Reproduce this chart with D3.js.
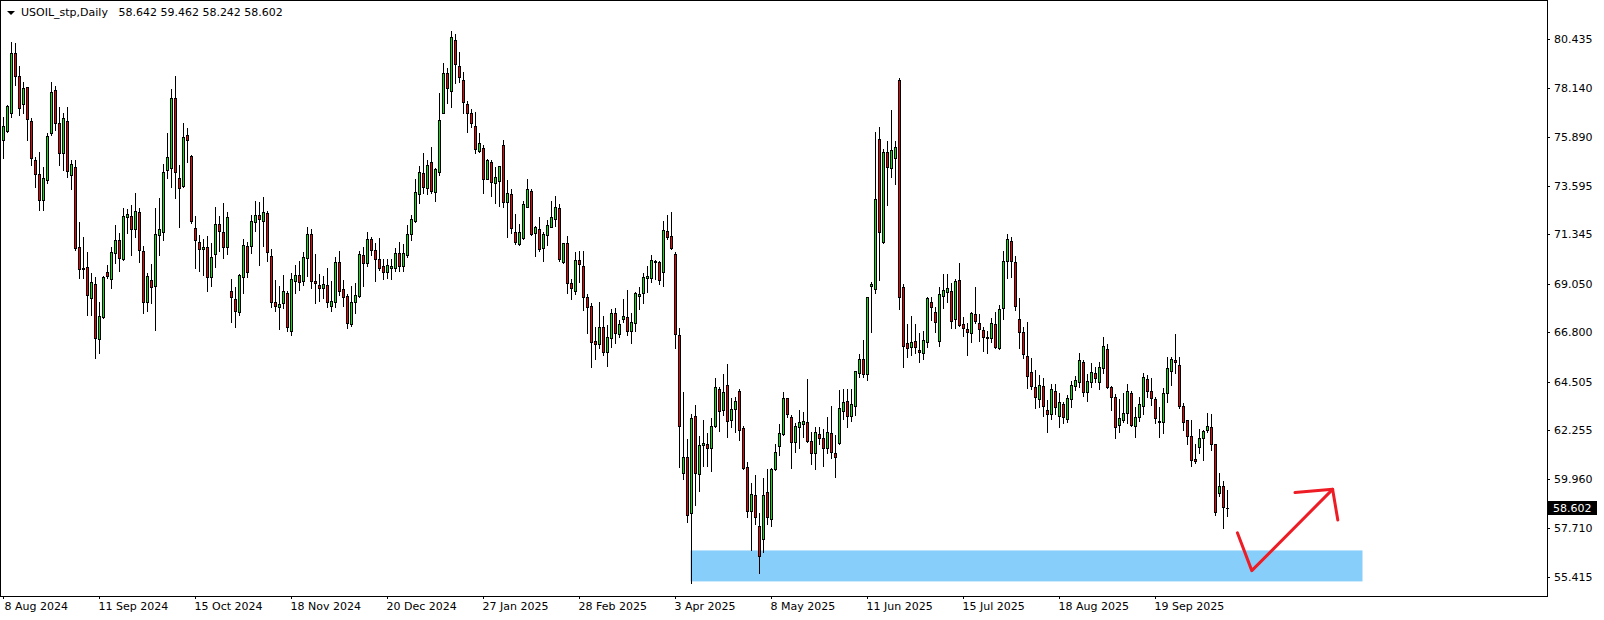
<!DOCTYPE html>
<html>
<head>
<meta charset="utf-8">
<script src="https://cdn.jsdelivr.net/npm/d3@7"></script>
<style>
  body { margin: 0; background: #fff; }
  svg { display: block; }
  text { font-family: "DejaVu Sans", Tahoma, sans-serif; font-size: 11px; fill: #000; }
</style>
</head>
<body>
<svg width="1604" height="620"></svg>
<script>
// daily candles, 8 Aug 2024 .. 15 Oct 2025
const opens = [75.73,76.17,76.97,79.76,78.71,77.39,78.18,76.60,74.80,74.15,72.94,73.86,76.05,78.06,76.51,75.12,76.62,74.09,74.47,70.74,
  69.77,69.82,68.40,69.03,66.49,67.49,69.58,69.26,70.47,71.08,70.19,72.17,72.20,71.61,72.39,70.59,68.20,69.21,68.96,71.30,
  71.47,74.34,74.42,77.70,73.96,73.58,75.97,74.99,71.64,70.99,70.65,70.76,69.35,70.42,71.81,71.46,70.74,68.71,68.34,67.72,
  69.35,70.81,70.82,71.91,72.25,71.98,72.33,70.34,68.20,67.98,68.14,68.63,66.87,69.18,69.46,69.18,70.27,71.35,69.18,68.99,
  68.84,68.99,68.03,68.22,70.05,68.79,68.48,67.19,68.19,68.49,70.39,70.03,71.12,70.62,70.19,69.87,69.58,69.77,69.77,70.47,
  69.89,70.39,71.35,71.97,73.23,74.19,73.49,74.70,73.33,74.26,76.97,78.83,78.01,80.38,79.18,78.52,77.39,76.97,76.39,75.22,
  75.35,73.93,74.70,73.72,73.84,75.50,72.84,73.21,71.47,70.88,71.19,72.63,73.36,71.40,71.59,70.70,71.30,71.70,72.08,72.57,
  70.08,70.93,69.07,68.73,70.15,69.89,68.43,68.02,66.39,66.24,67.05,65.88,66.54,67.68,66.71,67.43,67.49,66.85,67.21,68.48,
  68.61,69.33,69.33,70.05,70.05,69.61,71.50,71.27,70.43,66.67,60.27,61.01,58.38,62.90,60.19,61.55,61.59,61.43,62.45,64.14,
  63.18,64.34,62.72,63.21,64.06,62.33,60.52,58.50,59.23,57.80,57.20,59.35,58.10,60.42,61.51,62.05,63.73,62.84,61.71,62.38,
  62.52,62.61,61.74,61.17,62.05,61.87,61.40,62.10,61.17,61.63,63.15,63.60,62.91,63.38,64.89,65.54,64.85,68.96,68.79,75.77,
  71.01,75.16,74.42,74.91,78.52,68.88,66.28,66.12,66.39,65.97,65.82,66.36,68.19,67.75,66.40,68.49,68.65,68.71,67.40,69.23,
  67.18,66.95,66.75,67.63,67.21,66.90,66.58,66.52,67.17,66.05,67.91,70.12,71.05,70.05,67.40,66.79,65.69,64.93,64.24,63.68,
  64.30,63.18,62.98,64.06,62.91,63.46,62.76,63.68,64.30,64.50,65.43,64.00,64.47,64.89,64.50,65.12,66.02,64.24,63.77,62.48,
  62.72,63.03,63.96,62.44,62.87,63.38,64.61,64.06,63.68,62.67,62.64,63.96,65.01,65.49,65.27,63.37,62.72,61.97,60.89,61.47,
  61.89,62.25,62.37,61.59,59.31,59.65,58.642];
const highs = [76.82,77.36,80.31,80.23,79.18,78.45,78.18,76.74,74.96,75.19,74.49,76.07,78.45,78.24,77.28,77.00,77.28,74.80,74.80,71.93,
  71.24,70.54,69.53,69.38,68.22,69.41,69.92,70.74,71.78,71.40,72.59,72.51,72.71,73.27,72.59,70.81,69.53,69.97,72.59,73.02,
  74.62,76.07,78.10,78.70,74.57,76.54,76.28,75.04,72.20,71.32,71.12,71.28,70.93,72.63,72.20,72.80,72.39,69.27,68.90,69.52,
  71.13,71.01,72.25,72.90,72.85,73.08,72.43,70.67,69.21,68.95,69.46,68.71,69.53,69.92,70.11,70.51,71.69,71.58,70.43,69.50,
  69.41,69.77,69.18,70.28,70.57,69.23,68.57,68.95,69.07,70.59,70.74,71.46,71.24,70.93,71.16,70.19,70.20,70.19,70.70,70.98,
  70.90,71.78,72.25,73.92,74.54,75.12,74.80,75.42,74.45,77.93,79.33,79.10,80.80,80.65,79.83,78.91,77.55,77.16,77.04,76.05,
  75.50,74.84,74.80,74.49,74.52,75.73,73.87,73.46,72.29,71.83,72.88,73.92,73.46,71.74,72.15,71.47,72.01,72.91,73.13,72.76,
  70.96,71.28,69.27,70.51,70.57,70.59,68.57,68.14,67.05,68.19,67.57,67.13,67.88,67.91,67.36,68.34,68.76,67.68,68.65,68.88,
  69.53,69.88,70.39,70.15,70.11,71.97,72.25,72.40,70.54,66.98,64.00,61.82,62.98,63.41,61.97,62.72,62.10,62.79,64.68,64.26,
  64.85,65.32,63.72,63.80,64.14,62.44,60.78,59.80,60.15,58.40,60.00,60.44,60.47,61.60,62.53,64.03,63.73,62.95,62.59,63.18,
  63.09,64.62,62.14,62.40,62.40,62.28,62.87,63.37,62.02,64.11,64.14,64.14,64.14,64.99,65.80,66.44,68.45,69.14,76.12,76.35,
  75.32,75.69,77.13,75.69,78.60,69.04,67.18,67.55,67.17,66.75,66.87,68.42,68.42,67.95,68.91,69.49,69.49,69.10,69.27,70.03,
  67.52,67.21,67.72,68.88,67.63,67.03,66.87,67.47,67.72,68.06,70.59,71.36,71.21,70.34,68.37,67.03,67.29,65.61,65.04,64.81,
  64.68,63.64,64.38,64.38,63.96,63.57,63.88,64.54,64.76,65.82,65.50,64.85,65.35,65.17,65.43,66.56,66.25,64.30,63.92,63.69,
  63.96,64.39,64.08,63.33,63.80,64.91,64.81,64.65,63.77,63.31,64.19,65.66,65.66,66.71,65.66,63.50,62.72,62.72,61.60,62.30,
  62.25,63.03,63.00,61.59,60.24,59.88,59.462];
const lows = [74.88,76.12,76.82,78.29,76.90,76.97,75.73,74.57,73.56,72.48,72.48,73.75,75.97,76.20,74.57,74.34,74.03,73.46,70.62,69.30,
  69.30,67.60,67.60,65.58,65.82,67.44,69.30,68.84,70.00,69.66,70.15,71.40,70.39,71.24,70.05,67.70,67.78,68.17,66.90,70.39,
  71.08,73.95,73.56,73.02,71.67,73.56,74.73,71.89,69.77,69.66,69.45,68.73,68.95,69.84,70.59,70.23,70.42,67.29,67.05,67.60,
  68.61,69.38,70.47,71.52,69.92,70.82,70.11,67.97,67.80,66.96,67.94,66.87,66.67,68.61,68.76,69.00,69.41,68.87,68.17,68.25,
  68.37,67.98,67.76,67.98,68.53,68.03,67.01,67.10,67.70,68.45,68.94,69.89,70.39,69.18,69.69,69.26,69.30,69.26,69.66,69.66,
  69.66,70.28,71.08,71.93,72.82,73.26,73.21,73.28,72.90,74.09,76.97,77.44,77.25,78.40,78.43,76.97,76.12,76.35,75.14,75.19,
  73.26,73.91,73.13,72.79,72.67,72.61,71.21,71.42,70.90,70.85,71.12,72.61,71.33,70.36,70.59,70.12,70.85,71.67,71.74,70.12,
  70.03,68.63,68.34,68.56,69.14,67.83,66.75,65.19,65.55,66.05,65.74,65.24,66.12,66.31,66.56,67.29,66.67,66.31,66.87,67.87,
  68.14,68.68,69.14,69.27,69.04,68.95,71.13,70.67,66.08,60.54,59.97,57.99,55.15,58.76,59.43,60.58,60.58,60.36,62.40,62.22,
  62.95,61.91,62.40,62.17,61.78,60.42,58.22,56.67,57.90,55.60,56.60,57.90,57.80,60.39,61.09,62.02,62.84,60.50,61.24,61.43,
  61.91,61.71,60.66,60.42,61.60,60.59,61.17,60.93,60.08,61.60,62.75,62.38,62.68,62.95,64.70,64.70,64.56,66.82,68.61,69.23,
  70.96,72.71,74.03,73.69,67.86,65.19,65.66,65.74,65.81,65.43,65.54,66.09,67.37,66.82,66.17,67.91,68.22,66.98,66.98,67.09,
  66.62,65.74,66.36,67.24,66.40,65.94,65.82,66.36,66.05,66.00,67.40,69.30,69.35,67.83,66.08,65.61,64.19,64.15,63.26,63.33,
  62.92,62.17,62.76,62.98,62.38,62.56,62.64,63.33,64.11,64.26,63.84,63.61,64.24,64.50,64.16,64.89,64.19,63.18,61.89,62.17,
  62.64,62.56,62.44,61.94,62.68,62.99,63.77,63.41,62.56,61.94,62.13,63.57,64.34,64.91,63.26,62.25,61.60,60.58,60.73,61.17,
  60.86,62.17,61.32,58.32,59.18,57.71,58.242];
const closes = [76.39,77.31,79.76,78.71,77.21,78.15,76.70,74.88,74.15,72.94,73.95,75.92,77.97,76.54,75.12,76.74,74.31,74.62,70.73,69.72,
  69.72,68.54,69.12,66.54,67.55,69.35,69.41,70.54,71.08,70.23,72.19,72.28,71.61,72.43,70.62,68.20,69.41,68.91,71.35,71.58,
  74.26,74.93,77.70,74.26,73.48,75.86,75.73,71.98,71.07,70.68,70.76,69.38,70.29,71.83,71.52,70.77,72.15,68.42,67.80,69.46,
  70.85,69.61,71.97,72.25,72.05,72.37,70.54,68.22,68.03,68.11,68.70,67.05,69.26,69.46,69.15,70.29,71.35,69.18,69.10,68.87,
  69.04,68.22,68.25,70.05,68.71,68.45,67.21,68.20,68.51,70.43,70.00,71.12,70.62,70.19,69.80,69.58,69.91,69.87,70.47,69.89,
  70.47,71.35,72.06,73.30,74.23,73.56,74.56,73.38,74.39,76.66,78.83,78.14,80.51,79.27,78.65,77.49,76.99,76.51,75.30,75.58,
  73.93,74.80,73.77,74.01,74.52,72.84,73.26,71.63,70.98,71.44,72.76,73.46,71.36,71.69,70.65,71.36,71.77,72.15,72.62,70.21,
  70.93,69.07,68.84,70.15,69.95,68.45,67.98,66.36,66.24,67.03,65.89,66.57,67.68,66.75,67.18,67.54,66.85,67.29,68.61,68.57,
  69.35,69.40,70.14,70.11,69.21,71.55,71.24,70.73,66.70,62.44,61.01,58.30,62.79,60.27,61.55,61.66,61.43,62.44,64.24,63.15,
  64.00,62.68,63.21,63.60,62.25,60.47,58.50,59.26,58.20,56.40,59.23,58.20,60.42,61.21,62.10,63.73,62.98,61.71,62.44,62.61,
  62.67,61.75,61.19,62.14,61.87,61.40,62.17,61.21,61.01,63.26,63.54,62.91,63.44,64.99,65.54,64.85,68.42,69.02,72.97,71.47,
  75.16,74.49,75.27,75.39,68.45,66.17,66.08,66.33,66.12,65.89,66.44,68.37,67.95,67.26,68.56,68.76,68.84,67.33,69.19,67.13,
  67.01,66.79,67.68,67.33,66.96,66.59,66.52,67.21,66.09,67.86,70.12,71.12,70.12,68.02,66.82,65.77,64.78,64.31,63.80,64.34,
  63.38,62.98,64.14,63.33,63.54,62.87,63.73,64.34,64.57,65.49,64.00,64.52,64.97,64.65,65.17,66.16,64.24,63.77,62.40,62.79,
  63.05,64.06,62.48,62.84,63.44,64.70,64.08,63.73,62.79,62.62,63.96,65.12,65.54,65.43,63.38,62.64,61.99,60.86,60.82,61.87,
  62.20,62.44,61.60,58.43,59.65,58.66,58.602];

const dateLabels = ['8 Aug 2024', '11 Sep 2024', '15 Oct 2024', '18 Nov 2024', '20 Dec 2024', '27 Jan 2025', '28 Feb 2025',
  '3 Apr 2025', '8 May 2025', '11 Jun 2025', '15 Jul 2025', '18 Aug 2025', '19 Sep 2025'];
const dateBars = [0, 24, 48, 72, 96, 120, 144, 168, 192, 216, 240, 264, 288];
const priceTicks = [80.435, 78.140, 75.890, 73.595, 71.345, 69.050, 66.800, 64.505, 62.255, 59.960, 57.710, 55.415];

const title = 'USOIL_stp,Daily';
const lastBar = opens.length - 1;

// support zone (bars, prices) and the hand drawn arrow
const zoneBars = [172, 340];
const zonePrices = [55.21, 56.65];
const arrowLine = [[308.6, 57.47], [312.2, 55.71], [332.4, 59.49]];
const arrowHead = [[323, 59.34], [332.4, 59.49], [333.7, 58.07]];

const plotR = 1547, plotB = 596;
const up = '#00e800', down = '#f00000';

const svg = d3.select('svg');

const x = d3.scaleLinear().domain([0, 306]).range([3, 1227]);
const y = d3.scaleLinear().domain([55.415, 80.435]).range([577, 38.9]);

// zone behind candles
svg.append('rect')
  .attr('x', x(zoneBars[0]) - 0.5)
  .attr('y', y(zonePrices[1]))
  .attr('width', x(zoneBars[1]) - x(zoneBars[0]))
  .attr('height', y(zonePrices[0]) - y(zonePrices[1]))
  .attr('fill', '#87cefa');

let bars = d3.range(opens.length).map(i => ({
  i: i, o: opens[i], h: highs[i], l: lows[i], c: closes[i]
}));

let g = svg.append('g').attr('shape-rendering', 'crispEdges');

g.selectAll('line.wick')
  .data(bars)
  .join('line')
  .attr('class', 'wick')
  .attr('x1', d => Math.round(x(d.i)) + 0.5)
  .attr('x2', d => Math.round(x(d.i)) + 0.5)
  .attr('y1', d => Math.round(y(d.h)))
  .attr('y2', d => Math.round(y(d.l)) + 1)
  .attr('stroke', '#000');

g.selectAll('rect.body')
  .data(bars)
  .join('rect')
  .attr('class', 'body')
  .attr('x', d => Math.round(x(d.i)) - 0.5)
  .attr('y', d => Math.round(y(Math.max(d.o, d.c))) + 0.5)
  .attr('width', 2)
  .attr('height', d => Math.max(0.01, Math.round(y(Math.min(d.o, d.c))) - Math.round(y(Math.max(d.o, d.c)))))
  .attr('fill', d => d.c >= d.o ? up : down)
  .attr('stroke', '#000');

// arrow
let line = d3.line().x(d => x(d[0])).y(d => y(d[1]));
svg.selectAll('path.arrow')
  .data([arrowLine, arrowHead])
  .join('path')
  .attr('class', 'arrow')
  .attr('d', line)
  .attr('fill', 'none')
  .attr('stroke', '#ee1c24')
  .attr('stroke-width', 3)
  .attr('stroke-linejoin', 'round')
  .attr('stroke-linecap', 'round');

// frame
svg.append('rect')
  .attr('x', 0.5).attr('y', 0.5)
  .attr('width', plotR - 0.5).attr('height', plotB - 0.5)
  .attr('fill', 'none')
  .attr('stroke', '#000')
  .attr('shape-rendering', 'crispEdges');

// price axis
let ya = svg.append('g')
  .attr('transform', `translate(${plotR},0)`)
  .call(d3.axisRight(y).tickValues(priceTicks).tickFormat(d3.format('.3f')).tickSize(3).tickPadding(4));
ya.select('.domain').remove();
ya.selectAll('text').attr('font-family', null).attr('font-size', null);
ya.selectAll('line').attr('shape-rendering', 'crispEdges');

// last price marker
let lastY = y(closes[lastBar]);
svg.append('rect')
  .attr('x', plotR + 1).attr('y', Math.round(lastY) - 7)
  .attr('width', 49).attr('height', 14)
  .attr('fill', '#000');
svg.append('text')
  .attr('x', plotR + 6).attr('y', lastY + 4)
  .style('fill', '#fff')
  .text(closes[lastBar].toFixed(3));

// date axis
let xa = svg.append('g')
  .attr('transform', `translate(0,${plotB})`)
  .call(d3.axisBottom(x).tickValues(dateBars).tickFormat((d, i) => dateLabels[i]).tickSize(3).tickPadding(3));
xa.select('.domain').remove();
xa.selectAll('text').attr('font-family', null).attr('font-size', null)
  .attr('text-anchor', 'start').attr('dx', (d, i) => i == 0 ? 1 : -1);
xa.selectAll('line').attr('shape-rendering', 'crispEdges');

// header
svg.append('path')
  .attr('d', 'M7,11 L15,11 L11,15 Z')
  .attr('fill', '#000');
svg.append('text')
  .attr('x', 21).attr('y', 16)
  .style('white-space', 'pre')
  .text(title + '   ' + [opens[lastBar], highs[lastBar], lows[lastBar], closes[lastBar]].map(v => v.toFixed(3)).join(' '));
</script>
</body>
</html>
